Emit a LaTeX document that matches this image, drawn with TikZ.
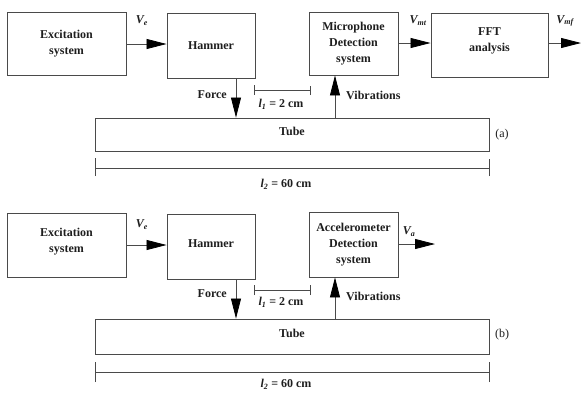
\documentclass[tikz,border=0pt]{standalone}
\usepackage{fontspec}
\setmainfont{Liberation Serif}
\usetikzlibrary{arrows.meta}
\definecolor{ink}{HTML}{1E1E1E}
\definecolor{edge}{HTML}{4A4A4A}
\begin{document}
\begin{tikzpicture}[x=1pt,y=-1pt,
  blk/.style={draw=edge,line width=0.9pt,align=center,text=ink,font=\fontsize{12}{16}\selectfont\bfseries,inner sep=0pt},
  lbl/.style={text=ink,font=\fontsize{12}{14}\selectfont\bfseries,inner sep=0pt},
  sig/.style={draw=edge,line width=0.8pt,-{Triangle[length=20pt,width=10pt,color=black]}},
  dim/.style={draw=edge,line width=0.6pt}]
\useasboundingbox (0,0) rectangle (582,392);
% ---------- (a) ----------
\node[blk,minimum width=119pt,minimum height=63pt] (exca) at (66.5,43.5) {Excitation\\system};
\node[blk,minimum width=88pt,minimum height=65pt] (hama) at (211,45.5) {Hammer};
\node[blk,minimum width=89pt,minimum height=63pt] (mic) at (353.5,43.5) {Microphone\\Detection\\system};
\node[blk,minimum width=117pt,minimum height=64pt,text depth=10pt] (fft) at (489.5,45) {FFT\\analysis};
\node[blk,minimum width=394pt,minimum height=33pt,text depth=6pt] (tubea) at (292,134.5) {Tube};
\coordinate (outa) at (581,43);
\coordinate (fa) at (236,78);
\coordinate (va) at (335,118);
\draw[sig] (exca.east |- 0,44) -- (hama.west |- 0,44);
\draw[sig] (mic.east |- 0,43) -- (fft.west |- 0,43);
\draw[sig] (fft.east |- outa) -- (outa);
\draw[sig] (fa |- hama.south) -- (fa |- tubea.north);
\draw[sig] (va |- tubea.north) -- (va |- mic.south);
\node[lbl] (vea) at (142,21) {\itshape V\textsubscript{e}};
\node[lbl] (vmt) at (418,21) {\itshape V\textsubscript{mt}};
\node[lbl] (vmf) at (565,21) {\itshape V\textsubscript{mf}};
\node[lbl,anchor=east] (forcea) at (227,95) {Force};
\node[lbl,anchor=west] (viba) at (346,95) {Vibrations};
\node[lbl] (l1a) at (281,104) {{\itshape l\textsubscript{1}} = 2 cm};
\node[lbl] (l2a) at (286,184) {{\itshape l\textsubscript{2}} = 60 cm};
\node[text=ink,font=\fontsize{12}{14}\selectfont,inner sep=0pt] (taga) at (502,135) {(a)};
\coordinate (l1aL) at (254,90); \coordinate (l1aR) at (310,90);
\draw[dim] (l1aL) -- (l1aR);
\draw[dim] ([yshift=-4.5pt]l1aL) -- ([yshift=5.5pt]l1aL);
\draw[dim] ([yshift=-5pt]l1aR) -- ([yshift=4.5pt]l1aR);
\coordinate (l2aL) at (95,168); \coordinate (l2aR) at (489,168);
\draw[dim] (l2aL) -- (l2aR);
\draw[dim] ([yshift=-8pt]l2aL) -- ([yshift=10pt]l2aL);
\draw[dim] ([yshift=-8pt]l2aR) -- ([yshift=9pt]l2aR);
% ---------- (b) ----------
\node[blk,minimum width=119pt,minimum height=64pt,text depth=10pt] (excb) at (66.5,245) {Excitation\\system};
\node[blk,minimum width=88pt,minimum height=65pt,text height=2pt] (hamb) at (211,246.5) {Hammer};
\node[blk,minimum width=89pt,minimum height=65pt] (acc) at (353.5,244.5) {Accelerometer\\Detection\\system};
\node[blk,minimum width=394pt,minimum height=35pt,text depth=6pt] (tubeb) at (292,336.5) {Tube};
\coordinate (outb) at (435,244);
\coordinate (fb) at (236,279);
\coordinate (vb) at (335,319);
\draw[sig] (excb.east |- 0,245) -- (hamb.west |- 0,245);
\draw[sig] (acc.east |- outb) -- (outb);
\draw[sig] (fb |- hamb.south) -- (fb |- tubeb.north);
\draw[sig] (vb |- tubeb.north) -- (vb |- acc.south);
\node[lbl] (veb) at (142,225) {\itshape V\textsubscript{e}};
\node[lbl] (vab) at (409,232) {\itshape V\textsubscript{a}};
\node[lbl,anchor=east] (forceb) at (227,294) {Force};
\node[lbl,anchor=west] (vibb) at (346,296) {Vibrations};
\node[lbl] (l1b) at (281,302) {{\itshape l\textsubscript{1}} = 2 cm};
\node[lbl] (l2b) at (286,384) {{\itshape l\textsubscript{2}} = 60 cm};
\node[text=ink,font=\fontsize{12}{14}\selectfont,inner sep=0pt] (tagb) at (502,335) {(b)};
\coordinate (l1bL) at (254,290); \coordinate (l1bR) at (310,290);
\draw[dim] (l1bL) -- (l1bR);
\draw[dim] ([yshift=-5pt]l1bL) -- ([yshift=5pt]l1bL);
\draw[dim] ([yshift=-5pt]l1bR) -- ([yshift=5pt]l1bR);
\coordinate (l2bL) at (95,372); \coordinate (l2bR) at (489,372);
\draw[dim] (l2bL) -- (l2bR);
\draw[dim] ([yshift=-10pt]l2bL) -- ([yshift=10pt]l2bL);
\draw[dim] ([yshift=-10pt]l2bR) -- ([yshift=10pt]l2bR);
\end{tikzpicture}
\end{document}
